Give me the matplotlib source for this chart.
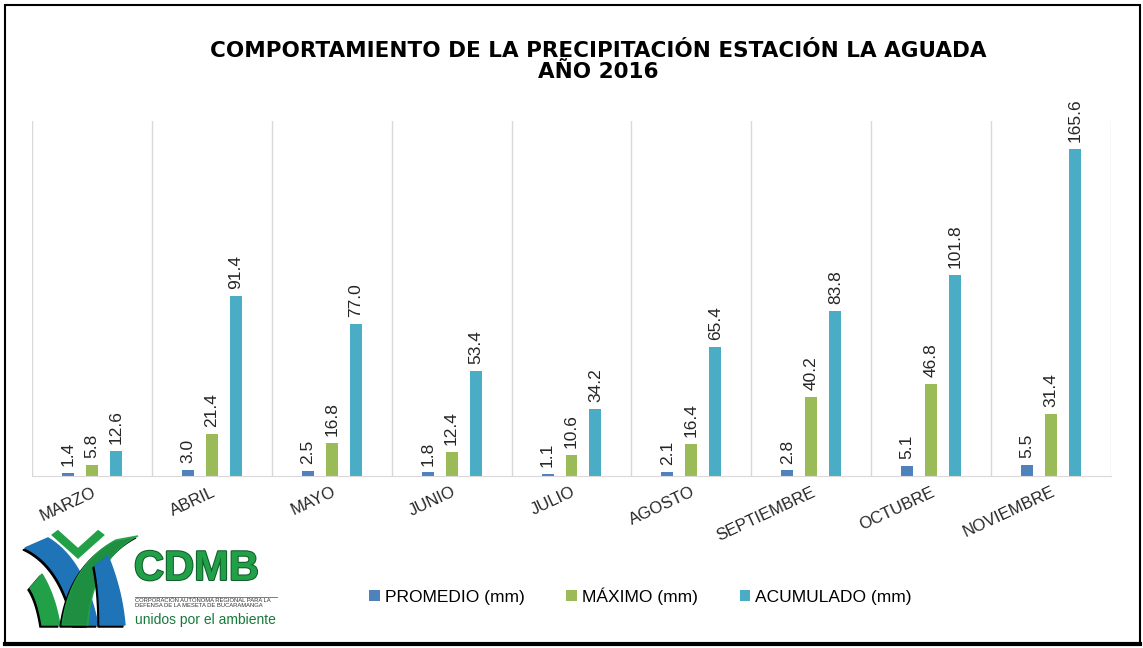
import numpy as np
import matplotlib
matplotlib.use("Agg")
import matplotlib.pyplot as plt
import matplotlib.patheffects as pe
from matplotlib.patches import Rectangle, Polygon
from matplotlib.lines import Line2D
import matplotlib.transforms as mtransforms

plt.rcParams['font.family'] = ['Liberation Sans', 'DejaVu Sans']

# Datos
meses = ['MARZO', 'ABRIL', 'MAYO', 'JUNIO', 'JULIO', 'AGOSTO',
         'SEPTIEMBRE', 'OCTUBRE', 'NOVIEMBRE']
promedio = [1.4, 3.0, 2.5, 1.8, 1.1, 2.1, 2.8, 5.1, 5.5]
maximo = [5.8, 21.4, 16.8, 12.4, 10.6, 16.4, 40.2, 46.8, 31.4]
acumulado = [12.6, 91.4, 77.0, 53.4, 34.2, 65.4, 83.8, 101.8, 165.6]
series = ['PROMEDIO (mm)', 'MÁXIMO (mm)', 'ACUMULADO (mm)']
colores = ['#4F81BD', '#9BBB59', '#4BACC6']

fig = plt.figure(figsize=(11.43, 6.48), dpi=100)
ax = fig.add_axes([0.028, 0.2654, 0.944, 0.548])

x = np.arange(len(meses))
ancho = 0.1
desp = 0.2
for i, (vals, nombre, col) in enumerate(zip([promedio, maximo, acumulado], series, colores)):
    barras = ax.bar(x + (i - 1) * desp, vals, width=ancho, color=col, label=nombre)
    for b, v in zip(barras, vals):
        ax.annotate(f'{v:.1f}', (b.get_x() + b.get_width() / 2, b.get_height()),
                    xytext=(0, 5), textcoords='offset points', rotation=90,
                    ha='center', va='bottom', fontsize=12.5, color='#262626')

ax.set_xlim(-0.5, len(meses) - 0.5)
ax.set_ylim(0, 180)
ax.set_yticks([])
ax.set_xticks(x)
ax.set_xticklabels(meses, rotation=25, ha='right', rotation_mode='anchor',
                   fontsize=12, color='#262626')
offset = mtransforms.ScaledTranslation(6 / 72, -3 / 72, fig.dpi_scale_trans)
for lbl in ax.get_xticklabels():
    lbl.set_transform(lbl.get_transform() + offset)
ax.tick_params(axis='x', length=0, pad=6)

# lineas verticales entre categorias
for xb in np.arange(-0.5, len(meses), 1):
    ax.axvline(xb, color='#D9D9D9', lw=1, zorder=0)
for s in ['top', 'right', 'left']:
    ax.spines[s].set_visible(False)
ax.spines['bottom'].set_color('#D9D9D9')

fig.text(0.523, 0.905, 'COMPORTAMIENTO DE LA PRECIPITACIÓN ESTACIÓN LA AGUADA\nAÑO 2016',
         ha='center', va='center', fontsize=15.5, fontweight='bold', linespacing=1.1,
         family='DejaVu Sans')

ax.legend(loc='center', bbox_to_anchor=(0.564, -0.338), ncol=3, frameon=False,
          fontsize=12.5, handlelength=0.6, handleheight=0.6, handletextpad=0.3,
          columnspacing=2.4)

# ---- logo aproximado CDMB (coordenadas en pixeles de la figura) ----
lax = fig.add_axes([0.018, 0.02, 0.235, 0.17])
lax.set_xlim(20.6, 289.2)
lax.set_ylim(635, 525)
lax.axis('off')
azul = '#1F74B8'
verde = '#22A048'
verde_osc = '#157A3A'


def banda(p0, c0, q0, p1, c1, q1):
    t = np.linspace(0, 1, 20)[:, None]
    a = (1 - t) ** 2 * np.array(p0) + 2 * (1 - t) * t * np.array(c0) + t ** 2 * np.array(q0)
    b = (1 - t) ** 2 * np.array(p1) + 2 * (1 - t) * t * np.array(c1) + t ** 2 * np.array(q1)
    return np.vstack([a, b[::-1]])


formas = [
    (banda((30, 588), (38, 600), (42, 625), (42, 574), (55, 595), (60, 625)), verde, 1.0),
    (banda((25, 548), (62, 565), (75, 625), (48, 538), (85, 560), (98, 625)), azul, 1.0),
    (banda((138, 536), (92, 560), (88, 625), (116, 540), (70, 565), (62, 625)), verde, 0.9),
    (banda((95, 566), (100, 590), (100, 625), (108, 556), (122, 590), (125, 625)), azul, 1.0),
]
for pts, col, al in formas:
    lax.add_patch(Polygon(pts + np.array([-2, 2]), color='black'))
    lax.add_patch(Polygon(pts, color=col, alpha=al))
check = np.array([[50, 535], [58, 529], [78, 547], [98, 529], [106, 535], [78, 560]])
lax.add_patch(Polygon(check, facecolor=verde, edgecolor='white', lw=1))

lax.text(134, 569, 'CDMB', fontsize=30, fontweight='bold', color=verde, va='center',
         path_effects=[pe.withStroke(linewidth=1.5, foreground='#0E5E2A')])
lax.plot([135, 277], [597, 597], color='#666666', lw=0.6)
lax.text(135, 603, 'CORPORACIÓN AUTÓNOMA REGIONAL PARA LA\nDEFENSA DE LA MESETA DE BUCARAMANGA',
         fontsize=4.2, color='#333333', va='center', linespacing=0.95)
lax.text(135, 620, 'unidos por el ambiente', fontsize=10, color=verde_osc, va='center')

# marco
fig.patches.append(Rectangle((0.004, 0.006), 0.993, 0.986, transform=fig.transFigure,
                             fill=False, edgecolor='black', lw=1.5))
fig.add_artist(Line2D([0.004, 0.997], [0.006, 0.006], color='black', lw=3,
                      transform=fig.transFigure))

fig.savefig('out.png', dpi=100)
